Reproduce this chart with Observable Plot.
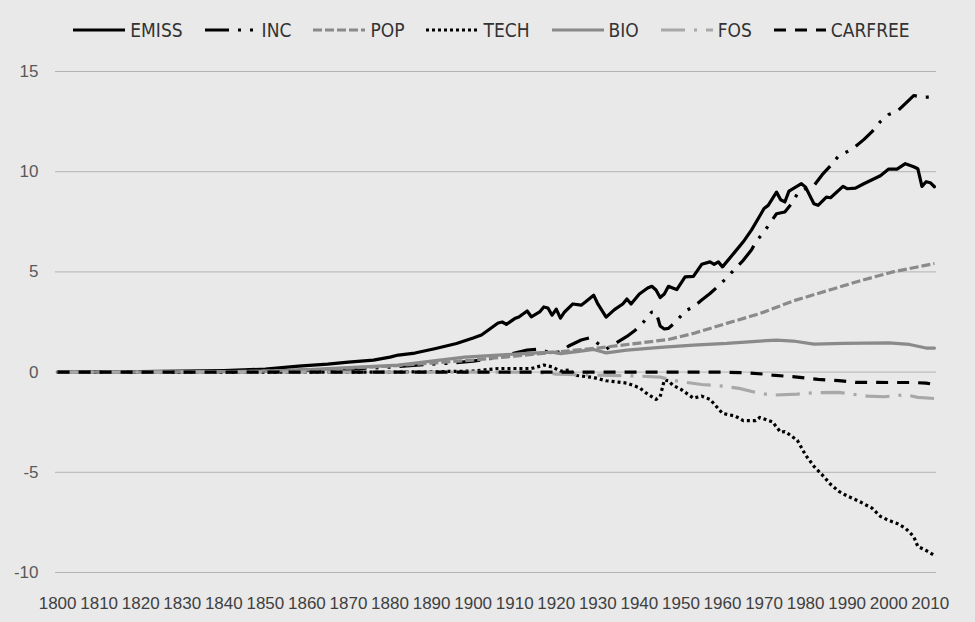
<!DOCTYPE html>
<html>
<head>
<meta charset="utf-8">
<script src="https://cdn.jsdelivr.net/npm/d3@7"></script>
<script src="https://cdn.jsdelivr.net/npm/@observablehq/plot@0.6"></script>
<style>
  html, body { margin: 0; padding: 0; background: #e9e9e9; }
  #wrap { width: 975px; height: 622px; background: #e9e9e9; position: relative; overflow: hidden; }
  #legend { height: 55px; box-sizing: border-box; padding-top: 4px; padding-left: 8px;
    display: flex; align-items: center; justify-content: center; gap: 22px;
    font-family: "Liberation Sans Narrow", "DejaVu Sans Condensed", "Liberation Sans", sans-serif;
    font-stretch: condensed; font-size: 19px; color: #333; }
  .item { display: flex; align-items: center; }
  .item svg { margin-right: 5px; }
</style>
</head>
<body>
<div id="wrap">
  <div id="legend"></div>
  <div id="chart"></div>
</div>
<script>
// ---- data (year, value) ----
const EMISS = [[1800,0],[1820,0.02],[1840,0.08],[1850,0.15],[1858,0.3],[1865,0.4],[1870,0.5],[1876,0.6],[1880,0.75],[1882,0.85],[1886,0.95],[1891,1.18],[1896,1.43],[1900,1.7],[1902,1.85],[1904,2.15],[1906,2.45],[1907,2.5],[1908,2.38],[1910,2.67],[1911,2.75],[1913,3.05],[1914,2.76],[1916,3.0],[1917,3.25],[1918,3.2],[1919,2.84],[1920,3.14],[1921,2.69],[1922,3.0],[1924,3.4],[1926,3.34],[1927,3.5],[1929,3.84],[1930,3.4],[1932,2.74],[1934,3.12],[1936,3.4],[1937,3.65],[1938,3.4],[1940,3.9],[1942,4.2],[1943,4.28],[1944,4.1],[1945,3.72],[1946,3.9],[1947,4.28],[1948,4.2],[1949,4.12],[1951,4.75],[1953,4.78],[1955,5.38],[1957,5.5],[1958,5.38],[1959,5.5],[1960,5.25],[1961,5.5],[1963,6.0],[1965,6.5],[1967,7.1],[1969,7.8],[1970,8.16],[1971,8.32],[1973,8.98],[1974,8.6],[1975,8.49],[1976,9.03],[1977,9.15],[1979,9.4],[1980,9.23],[1982,8.4],[1983,8.32],[1985,8.73],[1986,8.7],[1989,9.27],[1990,9.15],[1992,9.18],[1994,9.4],[1996,9.6],[1998,9.8],[2000,10.13],[2002,10.13],[2004,10.4],[2006,10.25],[2007,10.15],[2008,9.27],[2009,9.5],[2010,9.45],[2011,9.25]];
const INC = [[1800,0],[1840,0.02],[1850,0.05],[1860,0.1],[1870,0.15],[1880,0.25],[1890,0.4],[1895,0.45],[1900,0.55],[1905,0.7],[1910,0.95],[1913,1.1],[1916,1.15],[1918,1.0],[1921,1.0],[1923,1.3],[1926,1.6],[1928,1.71],[1930,1.43],[1932,1.15],[1934,1.4],[1937,1.78],[1939,2.09],[1941,2.5],[1943,3.0],[1944,3.0],[1945,2.3],[1946,2.15],[1947,2.18],[1949,2.56],[1951,3.05],[1953,3.25],[1955,3.6],[1957,3.92],[1959,4.3],[1961,4.7],[1963,5.15],[1965,5.58],[1967,6.1],[1968,6.5],[1970,7.0],[1972,7.6],[1973,7.9],[1975,7.99],[1977,8.5],[1978,8.9],[1980,9.15],[1982,9.3],[1984,9.85],[1986,10.3],[1988,10.8],[1990,11.0],[1992,11.26],[1994,11.6],[1996,12.0],[1998,12.5],[2000,12.85],[2002,13.0],[2004,13.4],[2006,13.8],[2008,13.72],[2010,13.72],[2011,13.85]];
const POP = [[1800,0],[1840,0.01],[1850,0.05],[1860,0.1],[1870,0.2],[1880,0.3],[1890,0.45],[1900,0.6],[1910,0.8],[1920,1.0],[1930,1.2],[1940,1.45],[1947,1.63],[1953,1.93],[1961,2.43],[1969,2.92],[1977,3.55],[1985,4.05],[1993,4.55],[2001,5.0],[2011,5.42]];
const TECH = [[1800,0],[1880,0],[1890,0.02],[1900,0.05],[1906,0.18],[1914,0.18],[1917,0.35],[1919,0.26],[1921,0.05],[1923,0.1],[1925,-0.17],[1929,-0.27],[1932,-0.43],[1935,-0.5],[1937,-0.55],[1940,-0.78],[1942,-1.1],[1944,-1.36],[1945,-1.23],[1946,-0.4],[1947,-0.43],[1948,-0.65],[1950,-0.86],[1953,-1.3],[1954,-1.25],[1955,-1.2],[1957,-1.36],[1960,-2.06],[1963,-2.19],[1965,-2.42],[1968,-2.42],[1969,-2.26],[1972,-2.48],[1974,-3.0],[1975,-2.97],[1976,-3.1],[1978,-3.4],[1980,-4.14],[1982,-4.7],[1984,-5.13],[1986,-5.6],[1988,-5.95],[1990,-6.18],[1993,-6.46],[1996,-6.79],[1998,-7.2],[2000,-7.4],[2002,-7.55],[2004,-7.79],[2006,-8.2],[2007,-8.7],[2009,-8.9],[2011,-9.15]];
const BIO = [[1800,0],[1840,0.02],[1850,0.05],[1858,0.1],[1870,0.22],[1882,0.35],[1890,0.55],[1898,0.75],[1906,0.85],[1912,0.92],[1919,1.0],[1921,0.92],[1925,1.02],[1929,1.13],[1932,0.96],[1937,1.1],[1945,1.23],[1953,1.35],[1961,1.43],[1969,1.55],[1973,1.6],[1977,1.55],[1982,1.4],[1989,1.43],[2000,1.46],[2005,1.38],[2009,1.2],[2011,1.2]];
const FOS = [[1800,0],[1915,0],[1920,-0.1],[1930,-0.15],[1940,-0.2],[1945,-0.25],[1948,-0.4],[1950,-0.48],[1955,-0.62],[1960,-0.7],[1964,-0.81],[1969,-1.06],[1972,-1.15],[1978,-1.1],[1982,-1.03],[1988,-1.01],[1991,-1.1],[1995,-1.2],[1999,-1.23],[2004,-1.13],[2007,-1.26],[2011,-1.32]];
const CARFREE = [[1800,0],[1960,0],[1965,-0.03],[1970,-0.1],[1972,-0.15],[1975,-0.2],[1978,-0.25],[1980,-0.3],[1983,-0.36],[1988,-0.43],[1992,-0.51],[2000,-0.52],[2006,-0.52],[2009,-0.55],[2011,-0.62]];

const seriesNames = ["EMISS","INC","POP","TECH","BIO","FOS","CARFREE"];
const xTicks = d3.range(1800, 2011, 10);
const yTicks = [-10, -5, 0, 5, 10, 15];

// ---- styles ----
const styles = {
  EMISS:   {stroke: "#000000", dash: null,               cap: "round"},
  INC:     {stroke: "#000000", dash: "24,9,3,9,3,9",      cap: "butt"},
  POP:     {stroke: "#8a8a8a", dash: "9,3",               cap: "butt"},
  TECH:    {stroke: "#000000", dash: "3,3",               cap: "butt"},
  BIO:     {stroke: "#8a8a8a", dash: null,               cap: "round"},
  FOS:     {stroke: "#a8a8a8", dash: "24,9,3,9",          cap: "butt"},
  CARFREE: {stroke: "#000000", dash: "12,9",              cap: "butt"}
};
const dataByName = {EMISS, INC, POP, TECH, BIO, FOS, CARFREE};

// ---- legend ----
const legend = document.getElementById("legend");
for (const name of seriesNames) {
  const s = styles[name];
  const item = document.createElement("div");
  item.className = "item";
  item.innerHTML = `<svg width="52" height="12"><line x1="0" x2="52" y1="6" y2="6" stroke="${s.stroke}" stroke-width="3.2" ${s.dash ? `stroke-dasharray="${s.dash}"` : ""} stroke-linecap="butt"/></svg><span>${name}</span>`;
  legend.appendChild(item);
}

// ---- chart ----
const marks = [
  Plot.ruleY(yTicks, {stroke: "#b4b4b4", strokeWidth: 1}),
  Plot.axisY({ticks: yTicks, tickSize: 0, tickPadding: 17, tickFormat: d => String(d), label: null, fill: "#595959"}),
  Plot.axisX({ticks: xTicks, tickSize: 0, tickPadding: 24, tickFormat: d => String(d), label: null, fill: "#404040"})
];
for (const name of seriesNames) {
  const s = styles[name];
  marks.push(Plot.line(dataByName[name], {
    x: d => d[0], y: d => d[1],
    stroke: s.stroke, strokeWidth: 3.2,
    strokeDasharray: s.dash || undefined,
    strokeLinecap: s.cap, strokeLinejoin: "round"
  }));
}

const chart = Plot.plot({
  width: 975,
  height: 567,
  marginLeft: 55,
  marginRight: 39,
  marginTop: 16,
  marginBottom: 50,
  x: {domain: [1799.5, 2011.5]},
  y: {domain: [-10, 15]},
  style: {background: "#e9e9e9", fontSize: "17px", fontFamily: "'Liberation Sans', Arial, sans-serif", color: "#595959"},
  marks
});
document.getElementById("chart").appendChild(chart);
</script>
</body>
</html>
